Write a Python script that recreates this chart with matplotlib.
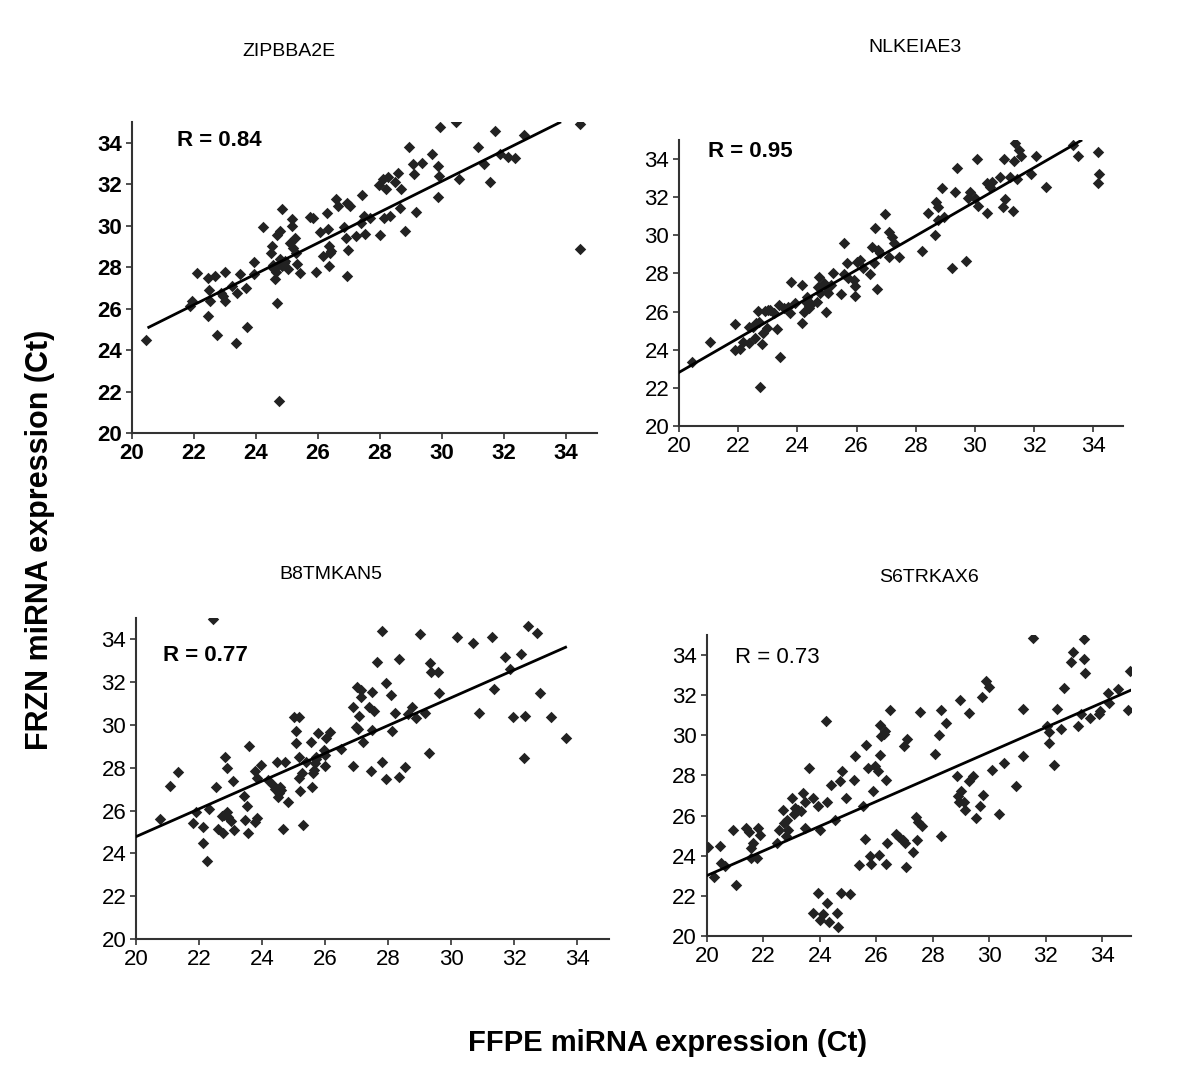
import numpy as np
import matplotlib
matplotlib.use("Agg")
import matplotlib.pyplot as plt

plt.rcParams['font.family'] = ['Liberation Sans', 'DejaVu Sans']

# ZIPBBA2E
p1_x = [20.45, 22.10, 21.94, 21.86, 22.44, 22.67, 22.49, 22.53, 22.45, 22.74, 22.99, 22.87, 23.01, 23.23,
        23.35, 23.39, 23.47, 23.68, 23.71, 23.92, 23.92, 24.23, 24.52, 24.48, 24.55, 24.62, 24.68, 24.75,
        24.84, 24.68, 24.78, 24.78, 24.84, 24.95, 25.03, 25.09, 25.16, 25.16, 25.19, 25.25, 25.30, 25.32,
        25.41, 25.73, 25.84, 25.95, 26.05, 26.16, 26.29, 26.31, 26.34, 26.34, 26.42, 26.59, 26.63, 26.85,
        26.91, 26.94, 26.96, 26.94, 27.04, 27.24, 27.42, 27.40, 27.51, 27.47, 27.69, 27.96, 27.99, 28.10,
        28.12, 28.20, 28.25, 28.33, 28.57, 28.49, 28.63, 28.68, 28.82, 28.92, 29.05, 29.09, 29.17, 29.35,
        29.68, 29.86, 29.89, 29.87, 29.95, 30.46, 30.54, 31.16, 31.34, 31.54, 31.70, 31.88, 32.12, 32.34,
        32.63, 34.46, 34.46, 24.65, 24.72, 24.90, 24.55, 22.95, 26.40]
p1_y = [24.51, 27.73, 26.36, 26.12, 27.46, 27.57, 26.92, 26.36, 25.64, 24.75, 27.76, 26.76, 26.36, 27.09,
        24.35, 26.76, 27.65, 27.00, 25.10, 27.65, 28.26, 29.94, 29.02, 28.66, 27.97, 27.41, 26.28, 21.56,
        30.82, 29.53, 29.74, 28.37, 28.05, 28.29, 27.89, 29.18, 30.31, 29.98, 28.94, 29.42, 28.70, 28.13,
        27.73, 30.43, 30.39, 27.78, 29.71, 28.53, 30.63, 29.82, 28.05, 29.02, 28.78, 31.27, 30.95, 29.94,
        29.42, 31.11, 28.82, 27.57, 30.95, 29.50, 31.46, 30.15, 29.58, 30.47, 30.35, 31.95, 29.53, 32.24,
        30.39, 31.76, 32.37, 30.47, 32.56, 32.13, 30.87, 31.79, 29.74, 33.82, 32.96, 32.51, 30.66, 33.01,
        33.48, 32.88, 32.40, 31.38, 34.78, 34.98, 32.24, 33.82, 32.96, 32.13, 34.57, 33.45, 33.33, 33.25,
        34.36, 34.90, 28.86, 27.75, 28.10, 28.20, 28.10, 26.60, 28.70]
p1_fit_x = [20.54, 33.80]
p1_fit_y = [25.10, 34.98]

# NLKEIAE3
p2_x = [20.45, 21.05, 21.90, 21.90, 22.07, 22.15, 22.35, 22.35, 22.58, 22.60, 22.66, 22.69, 22.79, 22.73,
        22.85, 22.91, 22.99, 23.08, 23.22, 23.31, 23.41, 23.38, 23.69, 23.74, 23.78, 23.92, 24.15, 24.17,
        24.22, 24.28, 24.34, 24.39, 24.45, 24.67, 24.69, 24.73, 24.78, 24.90, 24.97, 25.01, 25.15, 25.20,
        25.46, 25.57, 25.57, 25.68, 25.71, 25.90, 25.96, 25.96, 26.02, 26.13, 26.21, 26.47, 26.52, 26.58,
        26.61, 26.69, 26.72, 26.80, 26.95, 27.08, 27.10, 27.19, 27.25, 27.42, 28.22, 28.40, 28.65, 28.70,
        28.76, 28.76, 28.87, 28.96, 29.23, 29.34, 29.41, 29.71, 29.77, 29.83, 30.00, 30.08, 30.11, 30.39,
        30.42, 30.50, 30.56, 30.83, 30.95, 30.98, 31.00, 31.20, 31.28, 31.32, 31.34, 31.43, 31.49, 31.54,
        31.90, 32.07, 32.40, 33.30, 33.49, 34.16, 34.20, 34.16, 23.00, 22.50, 24.40, 25.05, 23.55]
p2_y = [23.37, 24.42, 25.35, 23.99, 24.02, 24.42, 24.37, 25.21, 24.60, 25.38, 26.05, 25.47, 24.28, 22.06,
        24.90, 26.05, 25.12, 26.08, 25.91, 25.07, 23.64, 26.35, 26.26, 25.91, 27.57, 26.47, 25.42, 27.39,
        26.00, 26.52, 26.78, 26.17, 26.40, 26.52, 27.31, 27.83, 26.96, 27.48, 26.00, 27.05, 27.39, 28.01,
        26.92, 29.58, 27.97, 28.53, 27.74, 27.66, 27.34, 26.82, 28.62, 28.71, 28.27, 27.97, 29.41, 28.53,
        30.37, 27.17, 29.23, 29.06, 31.10, 28.88, 30.19, 29.93, 29.62, 28.88, 29.20, 31.19, 30.02, 31.77,
        31.47, 30.80, 32.47, 30.94, 28.27, 32.29, 33.51, 28.67, 31.94, 32.29, 31.94, 33.99, 31.54, 31.15,
        32.73, 32.55, 32.81, 33.04, 31.47, 33.99, 31.89, 33.08, 31.29, 33.92, 34.86, 32.94, 34.48, 34.16,
        33.20, 34.16, 32.55, 34.74, 34.16, 34.39, 33.22, 32.73, 26.10, 25.20, 26.30, 27.00, 26.20]
p2_fit_x = [20.0, 33.58]
p2_fit_y = [22.81, 34.97]

# B8TMKAN5
p3_x = [20.77, 21.09, 21.33, 21.80, 21.90, 22.14, 22.12, 22.25, 22.32, 22.44, 22.54, 22.61, 22.77, 22.72,
        22.83, 22.88, 22.88, 22.93, 23.00, 23.07, 23.11, 23.43, 23.46, 23.51, 23.56, 23.58, 23.77, 23.77,
        23.83, 23.83, 23.98, 24.20, 24.35, 24.46, 24.51, 24.56, 24.61, 24.65, 24.74, 24.81, 25.02, 25.09,
        25.09, 25.18, 25.17, 25.18, 25.20, 25.28, 25.30, 25.41, 25.55, 25.60, 25.62, 25.67, 25.78, 25.72,
        25.96, 25.99, 26.02, 26.15, 26.51, 26.90, 26.90, 26.99, 27.01, 27.09, 27.15, 27.13, 27.20, 27.39,
        27.50, 27.50, 27.54, 27.46, 27.65, 27.80, 27.81, 27.92, 27.92, 28.10, 28.13, 28.23, 28.34, 28.36,
        28.52, 28.62, 28.76, 28.89, 29.01, 29.18, 29.31, 29.34, 29.36, 29.57, 29.60, 30.20, 30.70, 30.89,
        31.29, 31.36, 31.71, 31.86, 31.97, 32.21, 32.35, 32.32, 32.45, 32.73, 32.81, 33.18, 33.63,
        25.65, 25.70, 24.40, 24.55, 22.80, 26.00, 27.05]
p3_y = [25.59, 27.15, 27.82, 25.44, 25.95, 25.22, 24.47, 23.64, 26.07, 34.94, 27.12, 25.12, 24.94, 25.75,
        28.52, 27.98, 25.95, 25.72, 25.51, 27.40, 25.09, 26.68, 25.56, 26.21, 24.94, 29.02, 27.85, 25.48,
        27.51, 25.64, 28.13, 27.43, 27.20, 28.26, 26.65, 27.12, 26.96, 25.12, 28.26, 26.42, 30.39, 29.72,
        29.17, 30.39, 28.52, 27.51, 26.92, 27.74, 25.33, 28.29, 29.19, 27.12, 27.74, 28.21, 29.64, 28.52,
        28.83, 28.08, 29.38, 29.69, 28.86, 30.86, 28.10, 29.92, 31.79, 30.42, 31.64, 31.29, 29.22, 30.86,
        31.56, 29.77, 30.67, 27.85, 32.96, 34.41, 28.29, 31.98, 27.46, 31.40, 29.72, 30.55, 27.59, 33.07,
        28.05, 30.51, 30.83, 30.31, 34.24, 30.58, 28.68, 32.88, 32.49, 32.49, 31.48, 34.13, 33.82, 30.55,
        34.13, 31.67, 33.19, 32.62, 30.39, 33.30, 30.42, 28.44, 34.63, 34.31, 31.48, 30.39, 29.38,
        27.90, 28.40, 27.00, 26.80, 25.80, 28.60, 29.80]
p3_fit_x = [20.0, 33.63]
p3_fit_y = [24.78, 33.63]

# S6TRKAX6
p4_x = [20.04, 20.26, 20.47, 20.49, 20.65, 20.94, 21.02, 21.39, 21.51, 21.56, 21.62, 21.56, 21.76, 21.80,
        21.88, 22.47, 22.56, 22.68, 22.73, 22.82, 22.80, 22.86, 23.00, 23.08, 23.12, 23.24, 23.33, 23.41,
        23.47, 23.47, 23.62, 23.74, 23.74, 23.92, 23.94, 24.00, 24.00, 24.12, 24.21, 24.24, 24.27, 24.33,
        24.41, 24.53, 24.59, 24.65, 24.71, 24.80, 24.76, 24.94, 25.08, 25.24, 25.21, 25.39, 25.51, 25.59,
        25.65, 25.71, 25.76, 25.82, 25.88, 25.94, 26.06, 26.09, 26.12, 26.14, 26.18, 26.26, 26.29, 26.33,
        26.35, 26.38, 26.49, 26.68, 26.80, 26.94, 26.96, 27.00, 27.06, 27.09, 27.29, 27.39, 27.45, 27.47,
        27.53, 27.62, 28.06, 28.21, 28.29, 28.29, 28.45, 28.85, 28.88, 28.94, 28.96, 28.99, 29.09, 29.15,
        29.27, 29.29, 29.41, 29.53, 29.65, 29.76, 29.74, 29.88, 29.98, 30.09, 30.33, 30.53, 30.94, 31.20,
        31.20, 31.55, 32.02, 32.09, 32.12, 32.29, 32.38, 32.53, 32.65, 32.88, 32.94, 33.15, 33.24, 33.35,
        33.35, 33.38, 33.55, 33.86, 33.91, 34.21, 34.24, 34.56, 34.92, 34.98]
p4_y = [24.43, 22.96, 24.49, 23.63, 23.50, 25.29, 22.55, 25.38, 25.16, 24.38, 24.63, 23.88, 23.88, 25.38,
        25.04, 24.63, 25.29, 26.29, 25.63, 25.79, 24.99, 25.29, 26.88, 26.09, 26.38, 26.29, 26.21, 27.12,
        26.66, 25.38, 28.37, 26.88, 21.13, 26.46, 22.16, 20.80, 25.29, 21.10, 30.70, 21.66, 26.66, 20.72,
        27.51, 25.79, 21.17, 20.47, 27.71, 28.24, 22.16, 26.88, 22.10, 28.99, 27.79, 23.55, 26.46, 24.83,
        29.54, 28.37, 24.00, 23.60, 27.21, 28.49, 28.21, 24.05, 30.54, 29.04, 29.99, 30.09, 30.20, 23.60,
        27.79, 24.63, 31.25, 25.09, 24.96, 24.79, 29.46, 24.63, 23.43, 29.82, 24.21, 25.93, 24.79, 25.66,
        31.15, 25.46, 29.09, 30.04, 24.99, 31.25, 30.62, 27.96, 26.99, 26.66, 31.75, 27.21, 26.66, 26.29,
        31.09, 27.71, 27.96, 25.88, 26.46, 27.04, 31.92, 32.70, 32.42, 28.29, 26.08, 28.62, 27.46, 31.29,
        28.96, 34.83, 30.45, 30.15, 29.62, 28.54, 31.32, 30.32, 32.37, 33.65, 34.15, 30.45, 31.04, 34.78,
        33.82, 33.09, 30.87, 31.04, 31.20, 32.12, 31.62, 32.32, 31.25, 33.20]
p4_fit_x = [20.0, 35.0]
p4_fit_y = [23.01, 32.25]

titles = ["ZIPBBA2E", "NLKEIAE3", "B8TMKAN5", "S6TRKAX6"]
r_labels = ["R = 0.84", "R = 0.95", "R = 0.77", "R = 0.73"]
ticks = [20, 22, 24, 26, 28, 30, 32, 34]

fig = plt.figure(figsize=(12, 10.82), dpi=100)

panels = [
    # data, fit, axes rect, bold ticks, bold R, R position, title position
    (p1_x, p1_y, p1_fit_x, p1_fit_y, [0.110, 0.5998, 0.3875, 0.2874], True, True, (21.45, 34.1), (0.202, 0.952)),
    (p2_x, p2_y, p2_fit_x, p2_fit_y, [0.5658, 0.6063, 0.37, 0.2643], False, True, (20.97, 34.39), (0.724, 0.956)),
    (p3_x, p3_y, p3_fit_x, p3_fit_y, [0.1133, 0.1322, 0.394, 0.2967], False, True, (20.85, 33.26), (0.233, 0.4695)),
    (p4_x, p4_y, p4_fit_x, p4_fit_y, [0.589, 0.1349, 0.3533, 0.2782], False, False, (21.0, 33.87), (0.733, 0.466)),
]

for i, (xs, ys, fx, fy, rect, bold_ticks, bold_r, rpos, tpos) in enumerate(panels):
    ax = fig.add_axes(rect)
    ax.scatter(xs, ys, marker='D', s=34, color='#222222', linewidths=0, zorder=3)
    ax.plot(fx, fy, color='black', linewidth=2, zorder=4)
    ax.set_xlim(20, 35)
    ax.set_ylim(20, 35)
    ax.set_xticks(ticks)
    ax.set_yticks(ticks)
    for side in ['top', 'right']:
        ax.spines[side].set_visible(False)
    for side in ['left', 'bottom']:
        ax.spines[side].set_color('#333333')
        ax.spines[side].set_linewidth(1.5)
    ax.tick_params(direction='out', length=4, width=1.2, color='#333333', labelsize=16, pad=3)
    for lab in ax.get_xticklabels() + ax.get_yticklabels():
        lab.set_fontweight('bold' if bold_ticks else 'normal')
    ax.text(rpos[0], rpos[1], r_labels[i], fontsize=16, fontweight='bold' if bold_r else 'normal',
            ha='left', va='center')
    fig.text(tpos[0], tpos[1], titles[i], fontsize=14, ha='left', va='center')

fig.text(0.033, 0.501, "FRZN miRNA expression (Ct)", rotation=90, fontsize=22, fontweight='bold',
         ha='center', va='center')
fig.text(0.556, 0.036, "FFPE miRNA expression (Ct)", fontsize=21, fontweight='bold',
         ha='center', va='center')

plt.savefig('out.png', dpi=100)
plt.close()
